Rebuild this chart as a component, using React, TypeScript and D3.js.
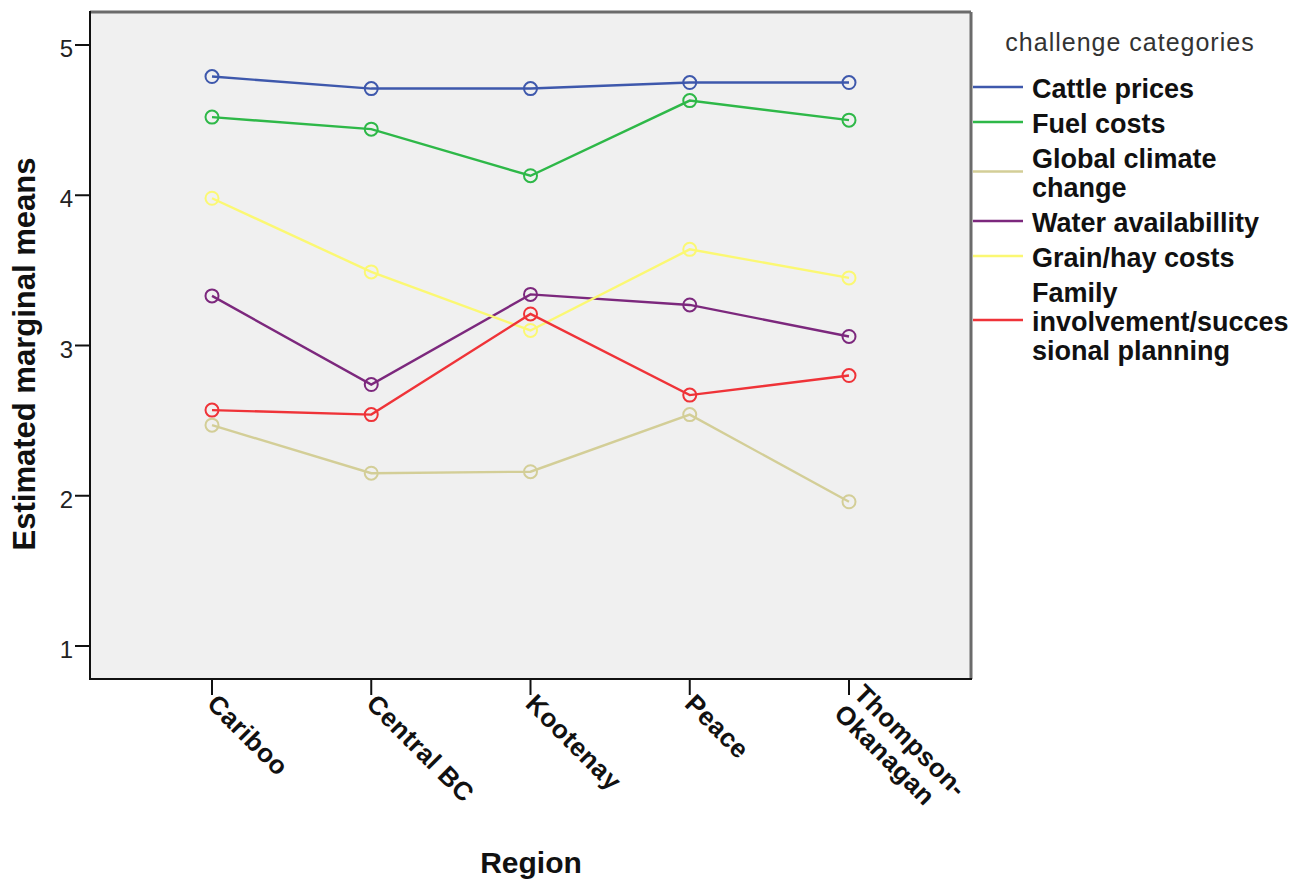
import React from "react";
import * as d3 from "d3";

const regions = ["Cariboo", "Central BC", "Kootenay", "Peace", "Thompson-\nOkanagan"];
const seriesNames = [
  "Cattle prices",
  "Fuel costs",
  "Global climate\nchange",
  "Water availabillity",
  "Grain/hay costs",
  "Family\ninvolvement/succes\nsional planning",
];
const seriesColors = ["#3E58AC", "#2EB848", "#D3CE97", "#7C287D", "#FBF873", "#EF3338"];
const cattlePrices = [4.79, 4.71, 4.71, 4.75, 4.75];
const fuelCosts = [4.52, 4.44, 4.13, 4.63, 4.5];
const globalClimate = [2.47, 2.15, 2.16, 2.54, 1.96];
const waterAvail = [3.33, 2.74, 3.34, 3.27, 3.06];
const grainHay = [3.98, 3.49, 3.1, 3.64, 3.45];
const familyPlanning = [2.57, 2.54, 3.21, 2.67, 2.8];
const seriesValues = [cattlePrices, fuelCosts, globalClimate, waterAvail, grainHay, familyPlanning];
const yTicks = [1, 2, 3, 4, 5];

const FONT = "'Liberation Sans', Arial, sans-serif";

export default function App() {
  const left = 90, right = 971, top = 12, bottom = 679;
  const x = d3.scalePoint<string>().domain(regions).range([212, 849]);
  const y = d3.scaleLinear().domain([1, 5]).range([646, 45]);
  const line = d3
    .line<number>()
    .x((_, i) => x(regions[i]) as number)
    .y((d) => y(d));

  const legendItems: { name: string; color: string; lines: string[]; ys: number[]; lineY: number }[] = [];
  let ly = 89;
  seriesNames.forEach((n, i) => {
    const lines = n.split("\n");
    const ys = lines.map((_, k) => ly + k * 29);
    const mid = (ys[0] + ys[ys.length - 1]) / 2;
    legendItems.push({ name: n, color: seriesColors[i], lines, ys, lineY: mid - 2 });
    ly = ys[ys.length - 1] + 35;
  });

  return (
    <svg width={1310} height={880} style={{ display: "block", position: "absolute", left: 0, top: 0, background: "#fff" }}>
      <rect x={left} y={top} width={right - left} height={bottom - top} fill="#F0F0F0" />
      <line x1={left} x2={right} y1={top} y2={top} stroke="#6b6b6b" strokeWidth={3} />
      <line x1={right} x2={right} y1={top} y2={bottom} stroke="#6b6b6b" strokeWidth={3} />
      <line x1={left} x2={left} y1={top - 1} y2={bottom + 1} stroke="#111" strokeWidth={2} />
      <line x1={left - 1} x2={right + 1} y1={bottom} y2={bottom} stroke="#111" strokeWidth={2} />

      {yTicks.map((t) => (
        <g key={t}>
          <line x1={75} x2={left} y1={y(t)} y2={y(t)} stroke="#111" strokeWidth={2} />
          <text x={73} y={y(t) + 12} textAnchor="end" fontFamily={FONT} fontSize={24} fill="#222">
            {t}
          </text>
        </g>
      ))}

      {regions.map((r) => {
        const cx = x(r) as number;
        const lines = r.split("\n");
        return (
          <g key={r}>
            <line x1={cx} x2={cx} y1={bottom} y2={695} stroke="#111" strokeWidth={2} />
            <g transform={`translate(${cx},699) rotate(45)`}>
              {lines.map((l, k) => (
                <text
                  key={k}
                  x={0}
                  y={(k - (lines.length - 1) / 2) * 28}
                  dominantBaseline="central"
                  fontFamily={FONT}
                  fontSize={26}
                  fontWeight="bold"
                  letterSpacing={0.5}
                  fill="#111"
                >
                  {l}
                </text>
              ))}
            </g>
          </g>
        );
      })}

      {seriesValues.map((vals, i) => (
        <g key={i}>
          <path d={line(vals) || ""} fill="none" stroke={seriesColors[i]} strokeWidth={2.4} />
          {vals.map((v, j) => (
            <circle
              key={j}
              cx={x(regions[j]) as number}
              cy={y(v)}
              r={6.5}
              fill="none"
              stroke={seriesColors[i]}
              strokeWidth={2}
            />
          ))}
        </g>
      ))}

      <text
        transform={`translate(35,354) rotate(-90)`}
        textAnchor="middle"
        fontFamily={FONT}
        fontSize={31}
        fontWeight="bold"
        fill="#111"
      >
        Estimated marginal means
      </text>
      <text x={531} y={873} textAnchor="middle" fontFamily={FONT} fontSize={30} fontWeight="bold" fill="#111">
        Region
      </text>

      <text x={1130} y={42} textAnchor="middle" dominantBaseline="central" fontFamily={FONT} fontSize={25} letterSpacing={1} fill="#333">
        challenge categories
      </text>
      {legendItems.map((it, i) => (
        <g key={i}>
          <line x1={973} x2={1023} y1={it.lineY} y2={it.lineY} stroke={it.color} strokeWidth={2.5} />
          {it.lines.map((l, k) => (
            <text
              key={k}
              x={1032}
              y={it.ys[k]}
              dominantBaseline="central"
              fontFamily={FONT}
              fontSize={27}
              fontWeight="bold"
              fill="#111"
            >
              {l}
            </text>
          ))}
        </g>
      ))}
    </svg>
  );
}
